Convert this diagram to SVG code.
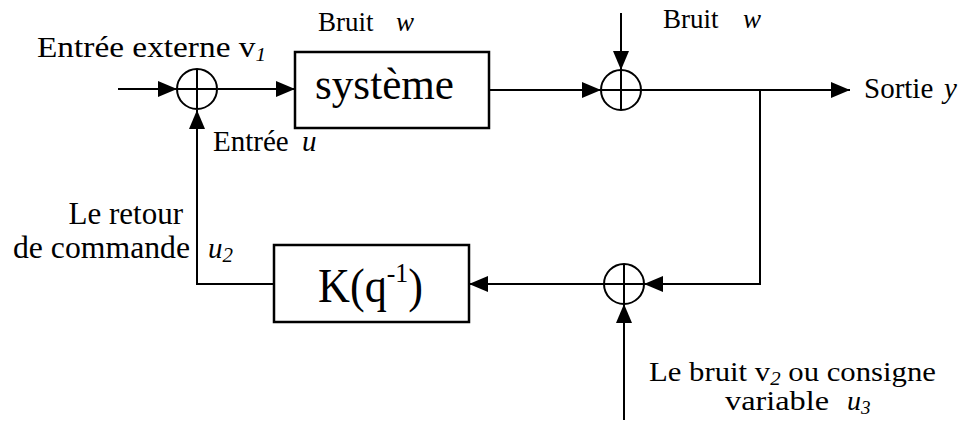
<svg xmlns="http://www.w3.org/2000/svg" width="975" height="426" viewBox="0 0 975 426">
<style>
  text { font-family: "Liberation Serif", "Times New Roman", serif; fill: #000; }
  .it { font-style: italic; }
  .box { fill: #fff; stroke: #000; stroke-width: 2.5; }
  .sum { fill: none; stroke: #000; stroke-width: 2; }
  .wire { fill: none; stroke: #000; stroke-width: 2; }
</style>
<defs>
  <marker id="arr" markerUnits="userSpaceOnUse" markerWidth="20" markerHeight="18" refX="19" refY="8" orient="auto">
    <path d="M0,0 L19,8 L0,16 Z" fill="#000"/>
  </marker>
</defs>
<rect width="975" height="426" fill="#fff"/>

<g id="connectors">
  <path class="wire" d="M118,89 L177,89" marker-end="url(#arr)"/>
  <path class="wire" d="M218,89 L295,89" marker-end="url(#arr)"/>
  <path class="wire" d="M489,90 L601,90" marker-end="url(#arr)"/>
  <path class="wire" d="M621,13 L621,70" marker-end="url(#arr)"/>
  <path class="wire" d="M641,90 L850,90" marker-end="url(#arr)"/>
  <path class="wire" d="M760,90 L760,284 L644,284" marker-end="url(#arr)"/>
  <path class="wire" d="M624,420 L624,304" marker-end="url(#arr)"/>
  <path class="wire" d="M604,284 L469,284" marker-end="url(#arr)"/>
  <path class="wire" d="M274,284 L197,284 L197,110" marker-end="url(#arr)"/>
</g>

<g id="sum1">
  <circle class="sum" cx="197" cy="89" r="20"/>
  <path class="sum" d="M177,89 H217 M197,69 V109"/>
</g>
<g id="sum2">
  <circle class="sum" cx="621" cy="90" r="20"/>
  <path class="sum" d="M601,90 H641 M621,70 V110"/>
</g>
<g id="sum3">
  <circle class="sum" cx="624" cy="284" r="20"/>
  <path class="sum" d="M604,284 H644 M624,264 V304"/>
</g>

<g id="systeme">
  <rect class="box" x="295" y="52" width="194" height="76"/>
  <text x="315" y="99" font-size="44" textLength="139" lengthAdjust="spacingAndGlyphs">système</text>
</g>

<g id="K">
  <rect class="box" x="274" y="245" width="195" height="77"/>
  <text x="318" y="302" font-size="48" textLength="105" lengthAdjust="spacingAndGlyphs">K(q<tspan font-size="28" dy="-20">-1</tspan><tspan dy="20">)</tspan></text>
</g>

<g id="labels">
  <text x="37" y="57" font-size="30" textLength="229" lengthAdjust="spacingAndGlyphs">Entrée externe v<tspan class="it" font-size="19" dy="4">1</tspan></text>
  <text x="318" y="31" font-size="27">Bruit<tspan class="it" x="396">w</tspan></text>
  <text x="663" y="28" font-size="27">Bruit<tspan class="it" x="743">w</tspan></text>
  <text x="213" y="151" font-size="29">Entrée<tspan class="it" x="302">u</tspan></text>
  <text x="183" y="224" font-size="31" text-anchor="end">Le retour</text>
  <text x="13" y="258" font-size="31" textLength="177" lengthAdjust="spacingAndGlyphs">de commande</text>
  <text x="208" y="258" font-size="29" class="it">u<tspan font-size="21" dy="4">2</tspan></text>
  <text x="864" y="98" font-size="29">Sortie<tspan class="it" x="944">y</tspan></text>
  <text x="649" y="381" font-size="28" textLength="287" lengthAdjust="spacingAndGlyphs">Le bruit v<tspan class="it" font-size="19" dy="4">2</tspan><tspan dy="-4"> ou consigne</tspan></text>
  <text x="725" y="410" font-size="28" textLength="104" lengthAdjust="spacingAndGlyphs">variable</text>
  <text x="847" y="410" font-size="28" class="it">u<tspan font-size="19" dy="4">3</tspan></text>
</g>
</svg>
